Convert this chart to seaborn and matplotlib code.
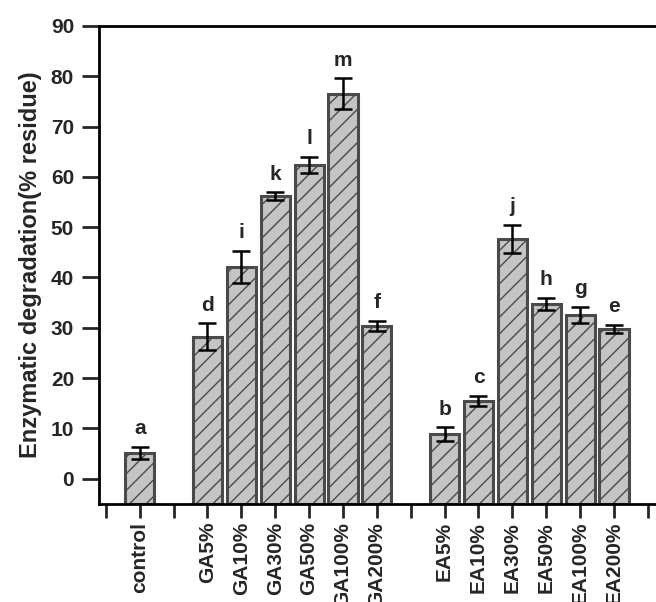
import matplotlib
matplotlib.use('Agg')
import matplotlib.pyplot as plt
import seaborn as sns
import pandas as pd

# data
groups = ['control', 'GA5%', 'GA10%', 'GA30%', 'GA50%', 'GA100%', 'GA200%',
          'EA5%', 'EA10%', 'EA30%', 'EA50%', 'EA100%', 'EA200%']
means = [5.2, 28.2, 42.1, 56.1, 62.4, 76.5, 30.4, 8.9, 15.5, 47.7, 34.8, 32.6, 29.8]
errors = [1.2, 2.7, 3.2, 0.8, 1.6, 3.1, 1.0, 1.4, 1.0, 2.8, 1.2, 1.6, 0.8]
letters = ['a', 'd', 'i', 'k', 'l', 'm', 'f', 'b', 'c', 'j', 'h', 'g', 'e']

# tick slots, blank strings are the gaps between groups
order = [' ', 'control', '  ', 'GA5%', 'GA10%', 'GA30%', 'GA50%', 'GA100%', 'GA200%',
         '   ', 'EA5%', 'EA10%', 'EA30%', 'EA50%', 'EA100%', 'EA200%', '    ']

df = pd.DataFrame({'group': groups, 'value': means})

sns.set_style('ticks')
plt.rcParams['font.family'] = ['Liberation Sans', 'DejaVu Sans']
plt.rcParams['font.weight'] = 'bold'
plt.rcParams['hatch.linewidth'] = 1.0

fig = plt.figure(figsize=(6.56, 6.02), dpi=100)
ax = fig.add_axes([0.151, 0.163, 0.849, 0.794])

ymin = -5
sns.barplot(data=df, x='group', y='value', order=order, color='#c4c4c4',
            width=0.86, edgecolor='#4a4a4a', linewidth=2.2, errorbar=None,
            saturation=1, ax=ax)
# bars in the original start at the bottom of the axis, not at zero
for patch in ax.patches:
    patch.set_hatch('//')
    top = patch.get_y() + patch.get_height()
    patch.set_y(ymin)
    patch.set_height(top - ymin)

xpos = [order.index(g) for g in groups]
ax.errorbar(xpos, means, yerr=errors, fmt='none', ecolor='black',
            elinewidth=1.8, capsize=6.5, capthick=1.8, zorder=5)

for x, m, e, t in zip(xpos, means, errors, letters):
    ax.annotate(t, (x, m + e), xytext=(0, 6), textcoords='offset points',
                ha='center', va='bottom', fontsize=15, fontweight='bold')

ax.set_ylim(ymin, 90)
ax.set_xlim(-0.2, 16.24)
ax.set_yticks(range(0, 91, 10))
ax.set_xticks(range(len(order)))
ax.set_xticklabels(order, rotation=90, fontsize=15, fontweight='bold')
ax.tick_params(axis='y', labelsize=15, length=12, width=2, pad=6)
ax.tick_params(axis='x', length=10, width=2, pad=3)
for lab in ax.get_yticklabels():
    lab.set_fontweight('bold')

ax.set_xlabel('')
ax.set_ylabel('Enzymatic degradation(% residue)', fontsize=17, fontweight='bold', labelpad=6)

for side in ['left', 'bottom', 'top']:
    ax.spines[side].set_linewidth(2)
    ax.spines[side].set_color('black')
ax.spines['right'].set_visible(False)

fig.savefig('out.png', dpi=100)
